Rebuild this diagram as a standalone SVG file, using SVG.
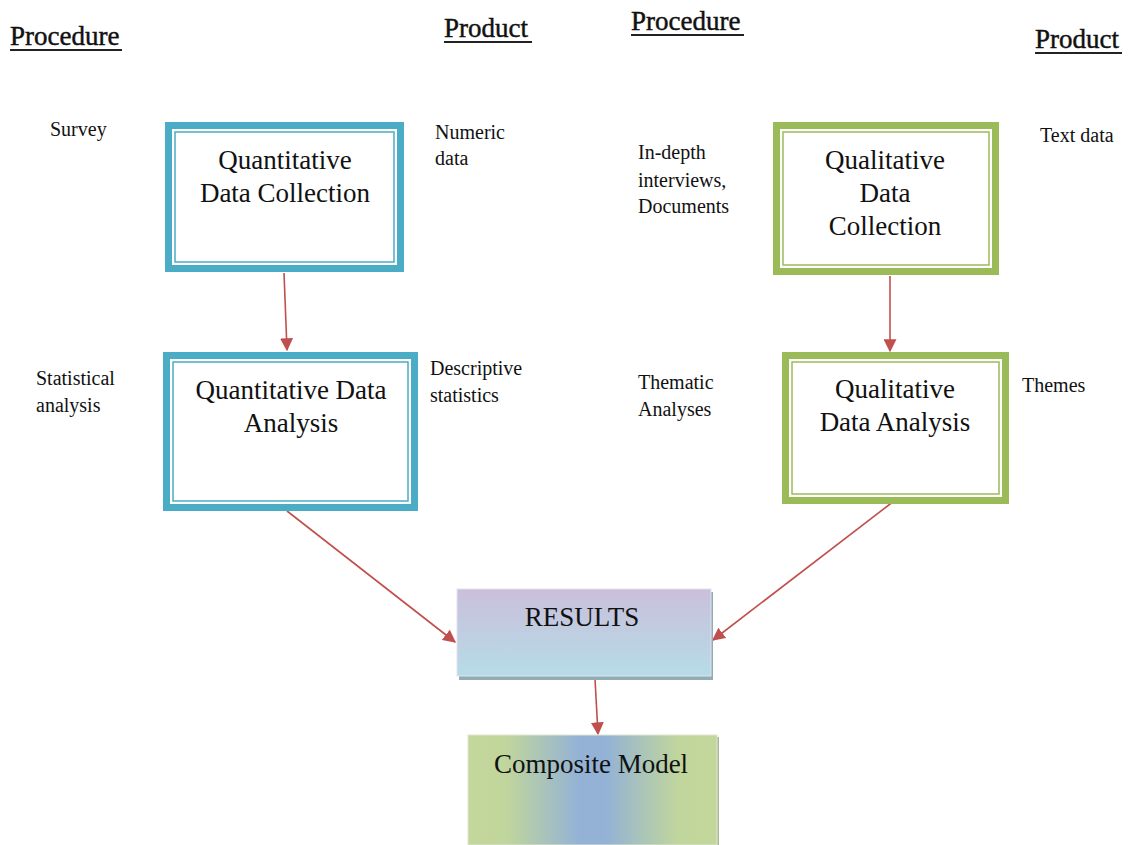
<svg xmlns="http://www.w3.org/2000/svg" width="1136" height="845" viewBox="0 0 1136 845">
  <style>
    text { font-family: 'Liberation Serif', 'Times New Roman', Times, 'DejaVu Serif', serif; fill: #111; }
    .head { font-size: 27px; stroke: #111; stroke-width: 0.45; }
    .ul { stroke: #222; stroke-width: 2; }
    .lbl { font-size: 20px; }
    .box { font-size: 27px; text-anchor: middle; }
    .teal { fill: #fff; stroke: #4bacc6; }
    .green { fill: #fff; stroke: #9bbb59; }
    .thick { stroke-width: 7; }
    .thin { fill: none; stroke-width: 1.5; }
    .conn { stroke: #c0504d; stroke-width: 1.6; fill: none; marker-end: url(#arrow); }
  </style>
  <defs>
    <marker id="arrow" viewBox="0 0 10 10" refX="9" refY="5" markerWidth="13" markerHeight="13" markerUnits="userSpaceOnUse" orient="auto">
      <path d="M0,0 L10,5 L0,10 z" fill="#c0504d"/>
    </marker>
    <linearGradient id="resGrad" x1="0" y1="0" x2="0" y2="1">
      <stop offset="0" stop-color="#cbbfdc"/>
      <stop offset="1" stop-color="#b5dce7"/>
    </linearGradient>
    <linearGradient id="compGrad" x1="0" y1="0" x2="1" y2="0">
      <stop offset="0" stop-color="#c3d69b"/>
      <stop offset="0.15" stop-color="#c1d69c"/>
      <stop offset="0.45" stop-color="#93b2d6"/>
      <stop offset="0.55" stop-color="#93b2d6"/>
      <stop offset="0.85" stop-color="#c1d69c"/>
      <stop offset="1" stop-color="#c3d69b"/>
    </linearGradient>
  </defs>

  <rect width="1136" height="845" fill="#fff"/>

  <!-- column headings -->
  <g id="headings">
    <text class="head" x="10" y="45">Procedure</text>
    <line class="ul" x1="10" y1="50" x2="122" y2="50"/>
    <text class="head" x="444" y="37">Product</text>
    <line class="ul" x1="444" y1="42" x2="532" y2="42"/>
    <text class="head" x="631" y="30">Procedure</text>
    <line class="ul" x1="631" y1="35" x2="744" y2="35"/>
    <text class="head" x="1035" y="48">Product</text>
    <line class="ul" x1="1035" y1="53" x2="1122" y2="53"/>
  </g>

  <!-- side labels -->
  <g id="labels">
    <text class="lbl" x="50" y="136">Survey</text>
    <text class="lbl" x="435" y="139">Numeric</text>
    <text class="lbl" x="435" y="165">data</text>
    <text class="lbl" x="638" y="159">In-depth</text>
    <text class="lbl" x="638" y="187">interviews,</text>
    <text class="lbl" x="638" y="213">Documents</text>
    <text class="lbl" x="1040" y="142">Text data</text>
    <text class="lbl" x="36" y="385">Statistical</text>
    <text class="lbl" x="36" y="412">analysis</text>
    <text class="lbl" x="430" y="375">Descriptive</text>
    <text class="lbl" x="430" y="402">statistics</text>
    <text class="lbl" x="638" y="389">Thematic</text>
    <text class="lbl" x="638" y="416">Analyses</text>
    <text class="lbl" x="1022" y="392">Themes</text>
  </g>

  <!-- connectors -->
  <g id="connectors">
    <line class="conn" x1="284" y1="273" x2="287" y2="350"/>
    <line class="conn" x1="890" y1="276" x2="890" y2="351"/>
    <line class="conn" x1="287" y1="511" x2="455" y2="642"/>
    <line class="conn" x1="894" y1="501" x2="713" y2="640"/>
    <line class="conn" x1="595" y1="679" x2="598" y2="734"/>
  </g>

  <!-- Quantitative Data Collection -->
  <g id="quant-collection">
    <rect class="teal thick" x="168.5" y="125.5" width="232" height="143"/>
    <rect class="teal thin" x="175" y="132" width="219" height="130"/>
    <text class="box" x="285" y="169">Quantitative</text>
    <text class="box" x="285" y="202">Data Collection</text>
  </g>

  <!-- Quantitative Data Analysis -->
  <g id="quant-analysis">
    <rect class="teal thick" x="166.5" y="355.5" width="248" height="152"/>
    <rect class="teal thin" x="173" y="362" width="235" height="139"/>
    <text class="box" x="291" y="399">Quantitative Data</text>
    <text class="box" x="291" y="432">Analysis</text>
  </g>

  <!-- Qualitative Data Collection -->
  <g id="qual-collection">
    <rect class="green thick" x="776.5" y="125.5" width="219" height="146"/>
    <rect class="green thin" x="783" y="132" width="206" height="133"/>
    <text class="box" x="885" y="169">Qualitative</text>
    <text class="box" x="885" y="202">Data</text>
    <text class="box" x="885" y="235">Collection</text>
  </g>

  <!-- Qualitative Data Analysis -->
  <g id="qual-analysis">
    <rect class="green thick" x="785.5" y="355.5" width="220" height="145"/>
    <rect class="green thin" x="792" y="362" width="207" height="132"/>
    <text class="box" x="895" y="398">Qualitative</text>
    <text class="box" x="895" y="431">Data Analysis</text>
  </g>

  <!-- Results -->
  <g id="results">
    <rect x="459" y="592" width="254" height="88" fill="#8fadb5"/>
    <rect x="457" y="589" width="254" height="87" fill="url(#resGrad)" stroke="#e6e0ee" stroke-width="1"/>
    <text class="box" x="582" y="626">RESULTS</text>
  </g>

  <!-- Composite Model -->
  <g id="composite">
    <rect x="470" y="737" width="249" height="110" fill="#a9b89a"/>
    <rect x="468" y="735" width="249" height="110" fill="url(#compGrad)" stroke="#dfe8cf" stroke-width="1"/>
    <text class="box" x="591" y="773">Composite Model</text>
  </g>
</svg>
